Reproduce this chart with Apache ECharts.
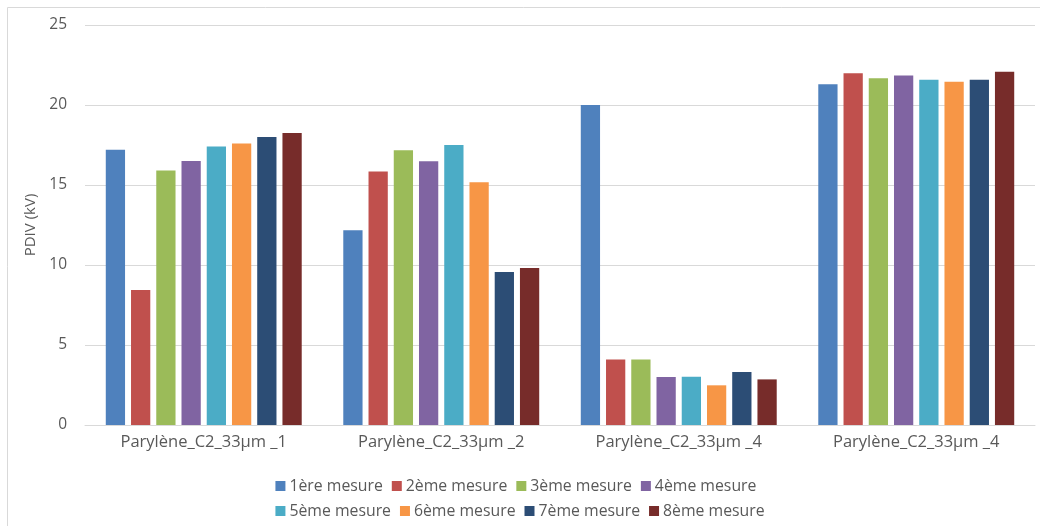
<!DOCTYPE html>
<html>
<head>
<meta charset="utf-8">
<script src="https://cdn.jsdelivr.net/npm/echarts@6/dist/echarts.min.js"></script>
<style>html,body{margin:0;padding:0;background:#fff}#c{width:1040px;height:526px}</style>
</head>
<body>
<div id="c"></div>
<script>
const categories = ["Parylène_C2_33µm _1", "Parylène_C2_33µm _2", "Parylène_C2_33µm _4", "Parylène_C2_33µm _4"];
const seriesNames = ["1ère mesure", "2ème mesure", "3ème mesure", "4ème mesure", "5ème mesure", "6ème mesure", "7ème mesure", "8ème mesure"];
const m1 = [17.2, 12.17, 20.0, 21.3];
const m2 = [8.44, 15.85, 4.1, 21.98];
const m3 = [15.9, 17.17, 4.1, 21.67];
const m4 = [16.5, 16.48, 3.0, 21.85];
const m5 = [17.4, 17.5, 3.02, 21.58];
const m6 = [17.6, 15.17, 2.48, 21.46];
const m7 = [18.0, 9.56, 3.31, 21.58];
const m8 = [18.25, 9.81, 2.85, 22.08];
const yTicks = [0, 5, 10, 15, 20, 25];
const colors = ["#4F81BD", "#C0504D", "#9BBB59", "#8064A2", "#4BACC6", "#F79646", "#2C4D75", "#772C2A"];
const values = [m1, m2, m3, m4, m5, m6, m7, m8];

const font = "'Open Sans', Lato, sans-serif";
const chart = echarts.init(document.getElementById('c'));
chart.setOption({
  animation: false,
  textStyle: { fontFamily: font },
  graphic: [
    { type: 'line', shape: { x1: 7.5, y1: 7.5, x2: 1040, y2: 7.5 }, style: { stroke: '#d9d9d9', lineWidth: 1 } },
    { type: 'line', shape: { x1: 7.5, y1: 7.5, x2: 7.5, y2: 526 }, style: { stroke: '#d9d9d9', lineWidth: 1 } }
  ],
  grid: { left: 85, right: 5, top: 25, bottom: 101 },
  legend: {
    data: seriesNames,
    left: 'center',
    top: 473,
    width: 520,
    itemWidth: 10,
    itemHeight: 10,
    itemGap: 9,
    icon: 'rect',
    textStyle: { fontFamily: font, fontSize: 15.8, color: '#595959', padding: [0, 0, 0, -1] }
  },
  xAxis: {
    type: 'category',
    data: categories,
    axisLine: { lineStyle: { color: '#d9d9d9' } },
    axisTick: { show: false },
    axisLabel: { fontFamily: font, fontSize: 16.5, color: '#595959', margin: 9 }
  },
  yAxis: {
    type: 'value',
    min: yTicks[0],
    max: yTicks[yTicks.length - 1],
    interval: 5,
    name: 'PDIV (kV)',
    nameLocation: 'middle',
    nameGap: 37,
    nameTextStyle: { fontFamily: font, fontSize: 15, color: '#595959' },
    axisLine: { show: false },
    axisTick: { show: false },
    axisLabel: { fontFamily: font, fontSize: 15.5, color: '#595959', margin: 18 },
    splitLine: { lineStyle: { color: '#d9d9d9' } }
  },
  series: seriesNames.map((n, i) => ({
    name: n,
    type: 'bar',
    data: values[i],
    barGap: '31%',
    barCategoryGap: '17.5%',
    itemStyle: { color: colors[i] }
  }))
});
</script>
</body>
</html>
